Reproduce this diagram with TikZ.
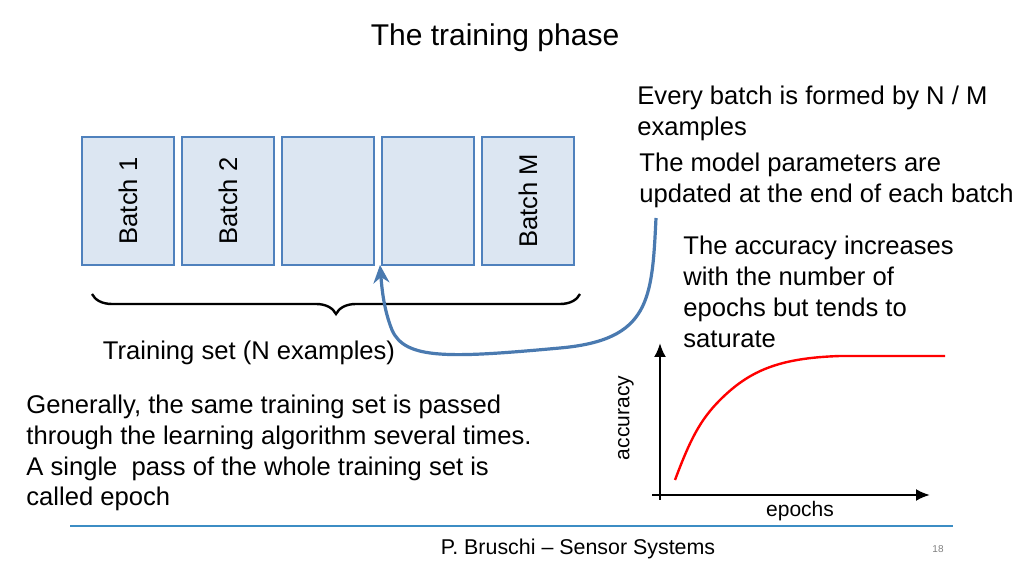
\documentclass[tikz,border=0pt]{standalone}
\usepackage{fontspec}
\setmainfont{Liberation Sans}
\usetikzlibrary{decorations.pathreplacing,arrows.meta}
\definecolor{boxfill}{HTML}{DCE6F2}
\definecolor{boxline}{HTML}{4F81BD}
\definecolor{arrowblue}{HTML}{4A7AB0}
\definecolor{footblue}{HTML}{3C8DC4}
\tikzset{
 batchbox/.style={draw=boxline,fill=boxfill,line width=1.2pt,minimum width=46pt,minimum height=64pt,inner sep=0pt},
 txt/.style={font=\fontsize{12.8pt}{15.4pt}\selectfont,inner sep=0pt},
 lefttxt/.style={txt,anchor=west,align=left},
}
\begin{document}
\begin{tikzpicture}[x=0.5pt,y=-0.5pt]
\useasboundingbox (0,0) rectangle (1024,576);
\node[font=\fontsize{15pt}{17pt}\selectfont] (title) at (495,38) {The training phase};
\foreach \i/\x in {1/128,2/228,3/328,4/428,5/528}{\node[batchbox] (b\i) at (\x,201) {};}
\node[txt,rotate=90] (l1) at (b1) {Batch 1};
\node[txt,rotate=90] (l2) at (b2) {Batch 2};
\node[txt,rotate=90] (l5) at (b5) {Batch M};
\coordinate (br1) at (92,294); \coordinate (br2) at (580,294);
\draw[line width=1.2pt,decorate,decoration={brace,mirror,amplitude=10pt}] (br1) -- (br2);
\node[txt] (ts) at (249,353) {Training set (N examples)};
\node[lefttxt] (p1) at (26,453) {Generally, the same training set is passed\\through the learning algorithm several times.\\A single\ \ pass of the whole training set is\\called epoch};
\node[lefttxt] (r1) at (637,113) {Every batch is formed by N / M\\examples};
\node[lefttxt] (r2) at (639,180) {The model parameters are\\updated at the end of each batch};
\node[lefttxt] (r3) at (683,292) {The accuracy increases\\with the number of\\epochs but tends to\\saturate};
\coordinate (as) at (656,218);
\coordinate (ae) at (380,265);
\draw[arrowblue,line width=1.6pt,-{Stealth[length=9pt,width=8pt]}] (as) .. controls (652,300) and (650,340) .. (560,348) .. controls (450,358) and (405,360) .. (392,330) .. controls (384,310) and (382,290) .. (ae);
\coordinate (yt) at (660,343);
\coordinate (xt) at (930,495);
\draw[line width=1.2pt,-{Latex[length=7pt,width=6pt]}] (660,500) -- (yt);
\draw[line width=1.2pt,-{Latex[length=7pt,width=6pt]}] (652,495) -- (xt);
\node[font=\fontsize{10.5pt}{12pt}\selectfont,rotate=90] (ya) at (626,418) {accuracy};
\node[font=\fontsize{10.5pt}{12pt}\selectfont] (xa) at (800,511) {epochs};
\draw[red,line width=1.2pt] (675,480) .. controls (690,440) and (700,420) .. (720,400) .. controls (750,370) and (780,358) .. (840,356) -- (945,356);
\draw[footblue,line width=1.2pt] (70,526) -- (953,526);
\node[font=\fontsize{10.7pt}{12pt}\selectfont] (ft) at (578,549) {P. Bruschi -- Sensor Systems};
\node[font=\fontsize{5pt}{6pt}\selectfont,text=gray] (pg) at (938,549) {18};
\end{tikzpicture}
\end{document}
